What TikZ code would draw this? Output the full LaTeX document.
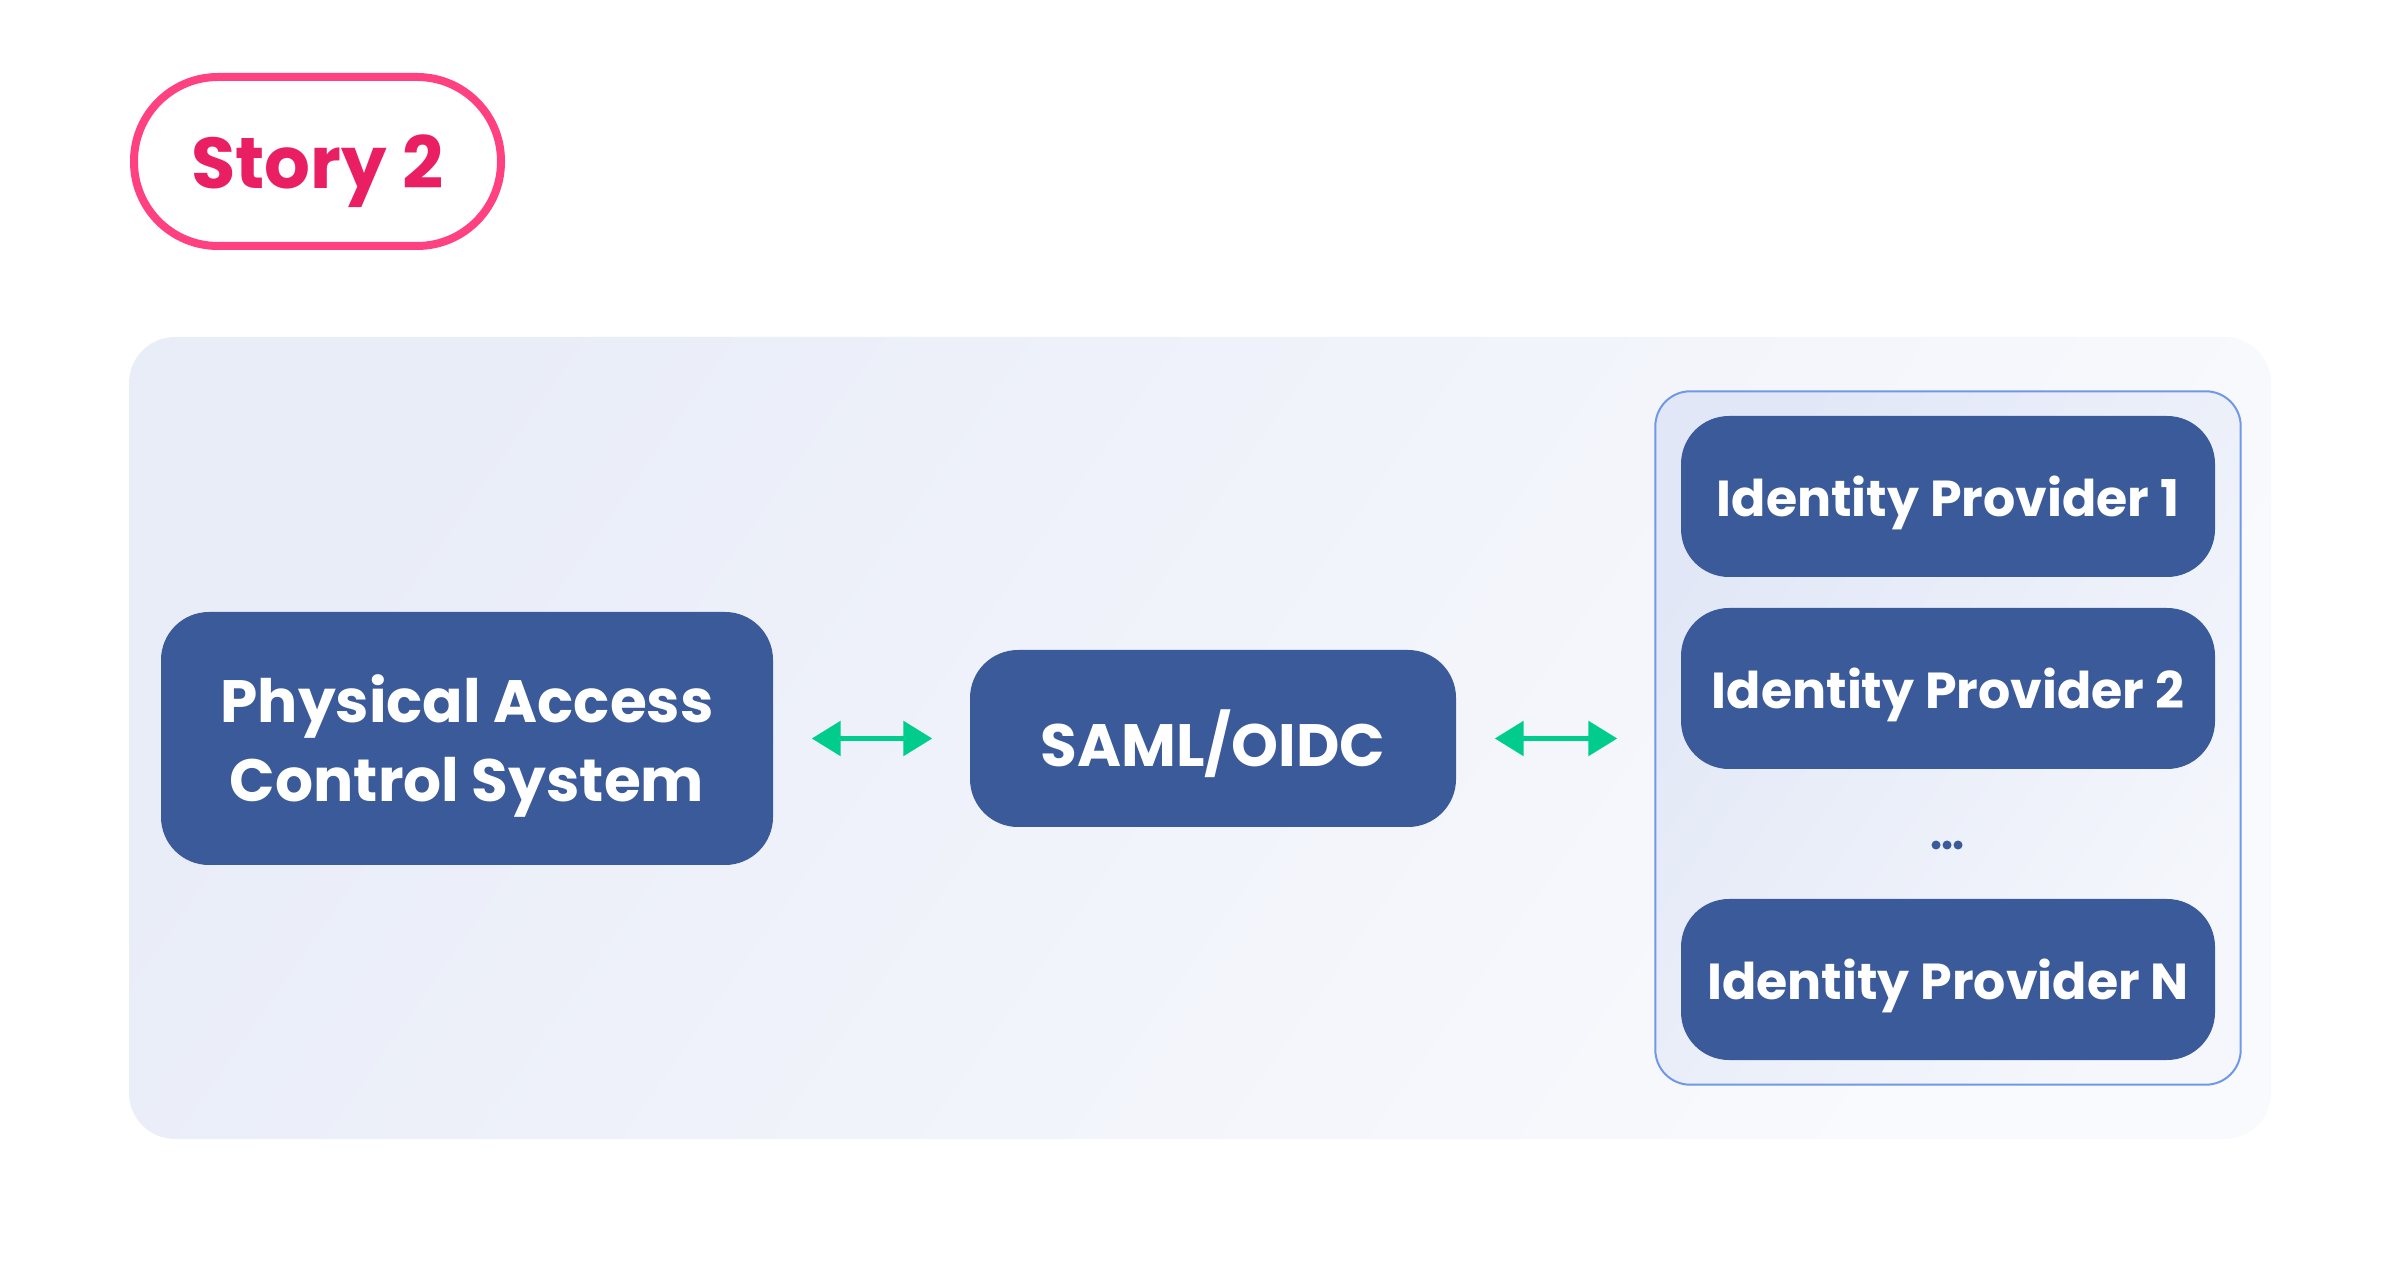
\documentclass[tikz,border=0pt]{standalone}
\usepackage{fontspec}
\setmainfont{Poppins}
\usetikzlibrary{arrows.meta,positioning,fit,backgrounds}

\definecolor{boxblue}{RGB}{58,90,154}
\definecolor{linkgreen}{RGB}{0,204,140}
\definecolor{storypink}{RGB}{233,30,99}
\definecolor{storyrim}{RGB}{255,64,129}
\definecolor{panelA}{RGB}{233,237,248}
\definecolor{panelB}{RGB}{249,250,253}
\definecolor{groupA}{RGB}{225,231,246}
\definecolor{groupB}{RGB}{245,247,252}
\definecolor{grouprim}{RGB}{112,152,232}

\begin{document}
\begin{tikzpicture}[
    sysbox/.style={fill=boxblue, text=white, rounded corners=0.48cm, align=center,
        font=\fontsize{17}{22.5}\selectfont\bfseries, inner sep=0pt, text depth=0pt},
    idpbox/.style={sysbox, minimum width=5.34cm, minimum height=1.61cm,
        font=\fontsize{14.4}{18}\selectfont\bfseries},
    biarrow/.style={{Triangle[length=0.29cm,width=0.34cm]}-{Triangle[length=0.29cm,width=0.34cm]},
        linkgreen, line width=0.057cm, shorten <=0.38cm, shorten >=0.37cm}
  ]
  \useasboundingbox (0,0) rectangle (24,-12.8);
  % Titolo
  \node[draw=storyrim, line width=0.08cm, rounded corners=0.84cm, minimum width=3.67cm,
        minimum height=1.69cm, text=storypink, text depth=0pt,
        font=\fontsize{20.5}{24}\selectfont\bfseries] (story) at (3.175,-1.615) {Story 2};
  % Blocchi
  \node[sysbox, minimum width=6.12cm, minimum height=2.53cm] (pacs) at (4.67,-7.385)
        {Physical Access\\Control System};
  \node[sysbox, minimum width=4.86cm, minimum height=1.77cm] (saml) at (12.13,-7.385)
        {SAML/OIDC};
  \node[idpbox] (idp1) at (19.48,-4.965) {Identity Provider 1};
  \node[idpbox] (idp2) at (19.48,-6.885) {Identity Provider 2};
  \coordinate (dots) at (19.47,-8.45);
  \node[idpbox] (idpN) at (19.48,-9.795) {Identity Provider N};
  \foreach \dx in {-0.11,0,0.11}
    \fill[boxblue] (dots) ++(\dx,0) circle (0.045);
  % Pannello e gruppo
  \begin{scope}[on background layer]
    \shade[rounded corners=0.46cm, left color=panelA, right color=panelB, shading angle=55]
          (1.29,-3.37) rectangle (22.71,-11.39);
    \node[fit=(idp1)(idpN), inner xsep=0.25cm, inner ysep=0.24cm, rounded corners=0.35cm,
          draw=grouprim, line width=0.02cm, left color=groupA, right color=groupB,
          shading angle=55] (idps) {};
  \end{scope}
  % Frecce
  \draw[biarrow] (pacs) -- (saml);
  \draw[biarrow] (saml.east) -- (saml.east -| idps.west);
\end{tikzpicture}
\end{document}
